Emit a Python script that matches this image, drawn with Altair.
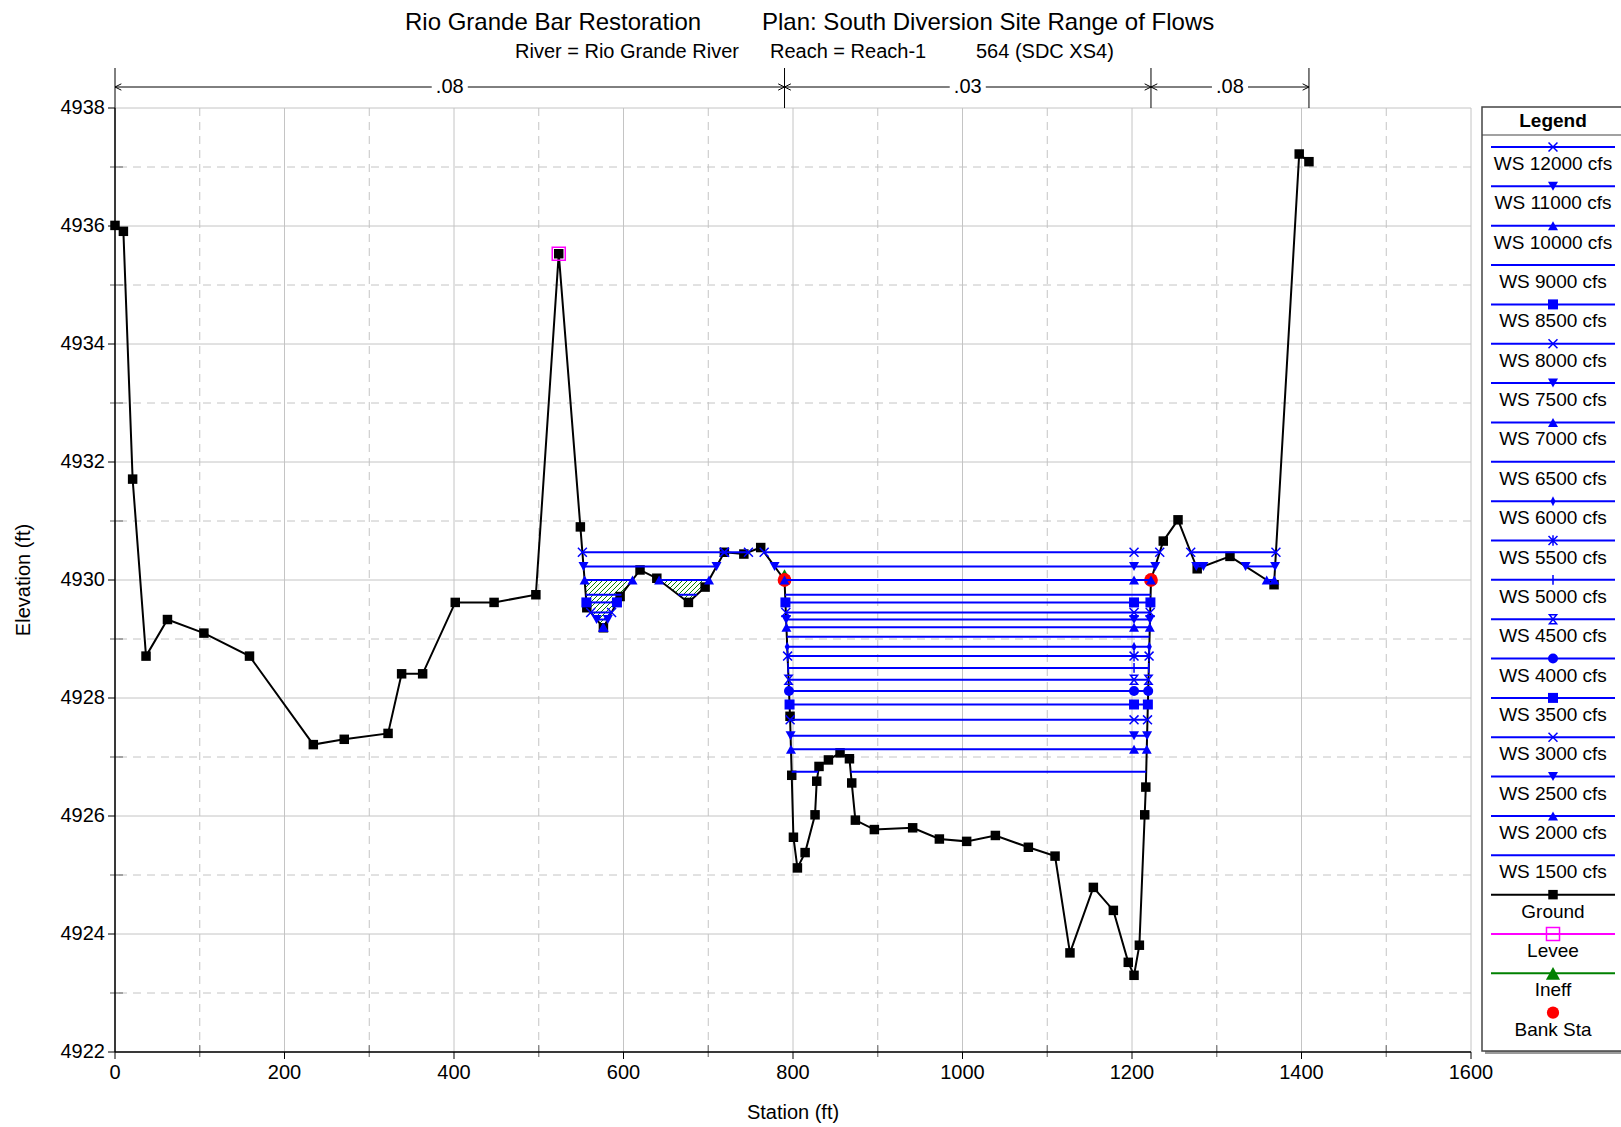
import altair as alt
import numpy as np
import pandas as pd

FONT = "Liberation Sans"
BLUE = "#0000ff"
GREEN = "#008000"
GRID = "#c4c4c4"

# ---------------- data ----------------
ground_sta = [0.0, 9.9, 20.8, 36.6, 61.9, 104.9, 158.7, 234.0, 270.5, 322.2,
              338.2, 363.0, 401.5, 447.3, 496.6, 523.6, 549.1, 556.7, 576.3, 596.0,
              619.5, 639.3, 676.6, 696.3, 719.0, 742.0, 761.9, 790.0, 796.5, 798.5,
              800.5, 805.2, 814.3, 826.0, 828.0, 830.7, 841.8, 855.5, 866.6, 869.3,
              873.6, 896.0, 941.2, 972.7, 1004.9, 1038.8, 1077.7, 1109.2, 1126.8, 1154.4,
              1178.0, 1195.6, 1202.4, 1208.7, 1215.0, 1216.3, 1222.4, 1236.9, 1254.3, 1276.9,
              1315.6, 1367.6, 1397.3, 1408.8]
ground_elev = [4936.01, 4935.91, 4931.71, 4928.71, 4929.33, 4929.10, 4928.71, 4927.21, 4927.30, 4927.40,
               4928.41, 4928.41, 4929.62, 4929.62, 4929.75, 4935.53, 4930.90, 4929.53, 4929.19, 4929.72,
               4930.17, 4930.03, 4929.62, 4929.88, 4930.47, 4930.44, 4930.55, 4930.00, 4927.69, 4926.69,
               4925.64, 4925.12, 4925.38, 4926.02, 4926.59, 4926.84, 4926.95, 4927.07, 4926.97, 4926.56,
               4925.93, 4925.77, 4925.80, 4925.61, 4925.57, 4925.67, 4925.47, 4925.32, 4923.68, 4924.79,
               4924.40, 4923.52, 4923.30, 4923.81, 4926.02, 4926.49, 4930.00, 4930.66, 4931.02, 4930.19,
               4930.40, 4929.92, 4937.22, 4937.09]

levee_sta = [523.6]
levee_elev = [4935.53]

bank_sta = [790.0, 1222.4]
bank_elev = [4930.0, 4930.0]

ineff_sta = [523.6, 790.0]
ineff_elev = 4930.0

profiles = ["WS 12000 cfs", "WS 11000 cfs", "WS 10000 cfs", "WS 9000 cfs", "WS 8500 cfs",
            "WS 8000 cfs", "WS 7500 cfs", "WS 7000 cfs", "WS 6500 cfs", "WS 6000 cfs",
            "WS 5500 cfs", "WS 5000 cfs", "WS 4500 cfs", "WS 4000 cfs", "WS 3500 cfs",
            "WS 3000 cfs", "WS 2500 cfs", "WS 2000 cfs", "WS 1500 cfs"]
ws_elev = [4930.47, 4930.23, 4930.00, 4929.75, 4929.62,
           4929.45, 4929.33, 4929.20, 4929.04, 4928.87,
           4928.71, 4928.51, 4928.31, 4928.12, 4927.89,
           4927.63, 4927.36, 4927.13, 4926.75]

n_sta = [0.0, 790.0, 1222.4, 1408.8]
n_val = [".08", ".03", ".08"]

x_ticks = list(range(0, 1601, 200))
x_minor = list(range(100, 1600, 200))
y_ticks = list(range(4922, 4939, 2))
y_minor = list(range(4923, 4938, 2))
x_domain = [0, 1600]
y_domain = [4922, 4938]

x_title = "Station (ft)"
y_title = "Elevation (ft)"
other_legend = ["Ground", "Levee", "Ineff", "Bank Sta"]

# ---------------- styles ----------------
X_PATH = "M-1,-1L1,1M-1,1L1,-1"
STAR_PATH = "M-1,-1L1,1M-1,1L1,-1M0,-1.2L0,1.2"
TICK_PATH = "M0,-1.1L0,1.1"
HOUR_PATH = "M-0.8,-1L0.8,-1L-0.8,1L0.8,1Z"
DIAM_PATH = "M0,-1L0.5,0L0,1L-0.5,0Z"
TRI_UP = "M0,-0.9L1,0.9L-1,0.9Z"
TRI_DN = "M0,0.9L1,-0.9L-1,-0.9Z"
marker_style = {
    "WS 12000 cfs": (X_PATH, False), "WS 11000 cfs": (TRI_DN, True),
    "WS 10000 cfs": (TRI_UP, True), "WS 8500 cfs": ("square", True),
    "WS 8000 cfs": (X_PATH, False), "WS 7500 cfs": (TRI_DN, True),
    "WS 7000 cfs": (TRI_UP, True), "WS 6000 cfs": (DIAM_PATH, True),
    "WS 5500 cfs": (STAR_PATH, False), "WS 5000 cfs": (TICK_PATH, False),
    "WS 4500 cfs": (HOUR_PATH, False), "WS 4000 cfs": ("circle", True),
    "WS 3500 cfs": ("square", True), "WS 3000 cfs": (X_PATH, False),
    "WS 2500 cfs": (TRI_DN, True), "WS 2000 cfs": (TRI_UP, True),
}
marker_profiles = [p for p in profiles if p in marker_style]
marker_shapes = [marker_style[p][0] for p in marker_profiles]
filled_profiles = [p for p in marker_profiles if marker_style[p][1]]
stroked_profiles = [p for p in marker_profiles if not marker_style[p][1]]

PLOT_W, PLOT_H = 1356, 944

xs = alt.Scale(domain=x_domain, nice=False, zero=False)
ys = alt.Scale(domain=y_domain, nice=False, zero=False)
shape_scale = alt.Scale(domain=marker_profiles, range=marker_shapes)

def X(f):
    return alt.X(f, scale=xs, axis=None)

def Y(f):
    return alt.Y(f, scale=ys, axis=None)

# ---------------- derived tables ----------------
gs = np.array(ground_sta)
gz = np.array(ground_elev)
ground_df = pd.DataFrame({"sta": gs, "elev": gz})
iL = ground_sta.index(levee_sta[0])
thal = float(gs[np.argmin(gz)])

seg_rows, mark_rows = [], []
for p, h in zip(profiles, ws_elev):
    start = None
    for i in range(iL, len(gs) - 1):
        x0, z0, x1, z1 = gs[i], gz[i], gs[i + 1], gz[i + 1]
        if start is None and z0 >= h and z1 < h:
            start = x0 + (z0 - h) / (z0 - z1) * (x1 - x0)
        elif start is not None and z0 < h and z1 >= h:
            end = x0 + (h - z0) / (z1 - z0) * (x1 - x0)
            seg_rows.append({"profile": p, "x1": start, "x2": end, "z": h})
            if p in marker_style:
                pts = [start, end] + ([thal] if start < thal < end else [])
                for s in pts:
                    mark_rows.append({"profile": p, "s": s, "z": h})
            start = None
seg_df = pd.DataFrame(seg_rows)
mark_df = pd.DataFrame(mark_rows)

# ineffective-flow hatch (45 degree lines in screen space)
sx = PLOT_W / (x_domain[1] - x_domain[0])
sy = PLOT_H / (y_domain[1] - y_domain[0])
Xp = np.arange(ineff_sta[0] * sx, ineff_sta[1] * sx, 0.2)
st = Xp / sx
gzi = np.interp(st, gs, gz)
hatch_rows = []
for c in np.arange(700.0, 1400.0, 5.0):
    Yp = c - Xp
    z = y_domain[1] - Yp / sy
    inside = (z <= ineff_elev) & (z > gzi)
    edges = np.flatnonzero(np.diff(np.concatenate([[0], inside.astype(int), [0]])))
    for a, b in zip(edges[::2], edges[1::2]):
        if b - a < 3:
            continue
        hatch_rows.append({"hx1": st[a], "hz1": z[a], "hx2": st[b - 1], "hz2": z[b - 1]})
hatch_df = pd.DataFrame(hatch_rows)

rough_df = pd.DataFrame({"s1": n_sta[:-1], "s2": n_sta[1:], "label": n_val})
rough_df["mid"] = (rough_df["s1"] + rough_df["s2"]) / 2

legend_labels = profiles + other_legend
line_colors = [BLUE] * len(profiles) + ["black", "#ff00ff", GREEN, None]
legend_df = pd.DataFrame({"idx": range(len(legend_labels)), "profile": legend_labels, "col": line_colors})

one = alt.Data(values=[{"a": 1}])

# ---------------- grid and axes (drawn with the scales) ----------------
xt_df = pd.DataFrame({"v": x_ticks})
yt_df = pd.DataFrame({"v": y_ticks})
xm_df = pd.DataFrame({"v": x_minor})
ym_df = pd.DataFrame({"v": y_minor})
grid_x = alt.Chart(xt_df).mark_rule(color=GRID, strokeWidth=1).encode(x=X("v:Q"))
grid_y = alt.Chart(yt_df).mark_rule(color=GRID, strokeWidth=1).encode(y=Y("v:Q"))
minor_x = alt.Chart(xm_df).mark_rule(
    color=GRID, strokeDash=[8, 6], strokeWidth=1).encode(x=X("v:Q"))
minor_y = alt.Chart(ym_df).mark_rule(
    color=GRID, strokeDash=[8, 6], strokeWidth=1).encode(y=Y("v:Q"))

axis_left = alt.Chart(one).mark_rule(color="black", strokeWidth=1.5).encode(
    x=alt.X("d:Q", scale=xs, axis=None)).transform_calculate(d=str(x_domain[0]))
axis_bottom = alt.Chart(one).mark_rule(color="black", strokeWidth=1.5).encode(
    y=alt.Y("d:Q", scale=ys, axis=None)).transform_calculate(d=str(y_domain[0]))
ticks_x = alt.Chart(xt_df).mark_rule(color="black", strokeWidth=1).encode(
    x=X("v:Q"), y=alt.value(PLOT_H), y2=alt.value(PLOT_H + 7))
ticks_y = alt.Chart(yt_df).mark_rule(color="black", strokeWidth=1).encode(
    y=Y("v:Q"), x=alt.value(-7), x2=alt.value(0))
mticks_x = alt.Chart(xm_df).mark_rule(color="#7a7a7a", strokeWidth=1.2).encode(
    x=X("v:Q"), y=alt.value(PLOT_H - 7), y2=alt.value(PLOT_H + 5))
mticks_y = alt.Chart(ym_df).mark_rule(color="#7a7a7a", strokeWidth=1.2).encode(
    y=Y("v:Q"), x=alt.value(-5), x2=alt.value(8))
labels_x = alt.Chart(xt_df).mark_text(font=FONT, fontSize=20, color="black", baseline="top",
                                      align="center").encode(
    x=X("v:Q"), y=alt.value(PLOT_H + 11), text=alt.Text("v:Q", format="d"))
labels_y = alt.Chart(yt_df).mark_text(font=FONT, fontSize=20, color="black", baseline="middle",
                                      align="right").encode(
    y=Y("v:Q"), x=alt.value(-10), text=alt.Text("v:Q", format="d"))
title_x = alt.Chart(one).mark_text(text=x_title, font=FONT, fontSize=20, color="black",
                                   baseline="middle", align="center").encode(
    x=alt.value(PLOT_W / 2), y=alt.value(PLOT_H + 61))
title_y = alt.Chart(one).mark_text(text=y_title, font=FONT, fontSize=20, color="black",
                                   baseline="middle", align="center", angle=270).encode(
    x=alt.value(-91), y=alt.value(PLOT_H / 2))

# ---------------- data layers ----------------
hatch = alt.Chart(hatch_df).mark_rule(color=GREEN, strokeWidth=1).encode(
    x=X("hx1:Q"), x2="hx2:Q", y=Y("hz1:Q"), y2="hz2:Q")

ground_line = alt.Chart(ground_df).mark_line(color="black", strokeWidth=2).encode(
    x=X("sta:Q"), y=Y("elev:Q"), order="sta:Q")

levee = alt.Chart(pd.DataFrame({"s": levee_sta, "z": levee_elev})).mark_point(
    shape="square", size=170, filled=False, color="#ff00ff", strokeWidth=1.5, opacity=1).encode(
    x=X("s:Q"), y=Y("z:Q"))

GSQ = 90
ground_pts = alt.Chart(ground_df).mark_point(
    shape="square", size=GSQ, filled=True, color="black", opacity=1).encode(
    x=X("sta:Q"), y=Y("elev:Q"))

ineff_pt = alt.Chart(pd.DataFrame({"s": [ineff_sta[1]], "z": [ineff_elev]})).mark_point(
    shape=TRI_UP, size=170, filled=True, color=GREEN, opacity=1).encode(
    x=X("s:Q"), y=Y("z:Q"), yOffset=alt.value(-5))

bank = alt.Chart(pd.DataFrame({"s": bank_sta, "z": bank_elev})).mark_point(
    shape="circle", size=190, filled=True, color="#ff0000", opacity=1).encode(
    x=X("s:Q"), y=Y("z:Q"))

ws_lines = alt.Chart(seg_df).mark_rule(color=BLUE, strokeWidth=2).encode(
    x=X("x1:Q"), x2="x2:Q", y=Y("z:Q"))

MK_F, MK_S = 100, 80
ws_mk_fill = alt.Chart(mark_df).transform_filter(
    alt.FieldOneOfPredicate(field="profile", oneOf=filled_profiles)).mark_point(
    filled=True, color=BLUE, size=MK_F, opacity=1).encode(
    x=X("s:Q"), y=Y("z:Q"),
    shape=alt.Shape("profile:N", scale=shape_scale, legend=None))
ws_mk_stroke = alt.Chart(mark_df).transform_filter(
    alt.FieldOneOfPredicate(field="profile", oneOf=stroked_profiles)).mark_point(
    filled=False, color=BLUE, size=MK_S, strokeWidth=1.5, opacity=1).encode(
    x=X("s:Q"), y=Y("z:Q"),
    shape=alt.Shape("profile:N", scale=shape_scale, legend=None))

# roughness annotation above the plot
RY = -21
rough_v = alt.Chart(pd.DataFrame({"s": n_sta})).mark_rule(color="black", strokeWidth=1).encode(
    x=X("s:Q"), y=alt.value(-40), y2=alt.value(0))
rough_h = alt.Chart(rough_df).mark_rule(color="black", strokeWidth=1).encode(
    x=X("s1:Q"), x2="s2:Q", y=alt.value(RY))
rough_box = alt.Chart(rough_df).mark_point(
    shape="M-1,-0.45L1,-0.45L1,0.45L-1,0.45Z", size=1300, filled=True, color="white", opacity=1).encode(
    x=X("mid:Q"), y=alt.value(RY))
rough_txt = alt.Chart(rough_df).mark_text(font=FONT, fontSize=20, color="black", baseline="middle").encode(
    x=X("mid:Q"), y=alt.value(RY), text="label:N")
arrow_l = alt.Chart(rough_df).mark_point(
    shape="M2,-1L0,0L2,1", size=40, filled=False, color="black", strokeWidth=1, opacity=1).encode(
    x=X("s1:Q"), y=alt.value(RY))
arrow_r = alt.Chart(rough_df).mark_point(
    shape="M-2,-1L0,0L-2,1", size=40, filled=False, color="black", strokeWidth=1, opacity=1).encode(
    x=X("s2:Q"), y=alt.value(RY))

# titles
def label(text, x, y, size, weight="normal", align="left"):
    return alt.Chart(one).mark_text(text=text, font=FONT, fontSize=size, fontWeight=weight,
                                    align=align, baseline="alphabetic", color="black").encode(
        x=alt.value(x), y=alt.value(y))

titles = [
    label("Rio Grande Bar Restoration", 290, -78, 24),
    label("Plan: South Diversion Site Range of Flows", 647, -78, 24),
    label("River = Rio Grande River", 400, -50, 20),
    label("Reach = Reach-1", 655, -50, 20),
    label("564 (SDC XS4)", 861, -50, 20),
]

# legend panel
LX0, LX1, LC = 1367, 1520, 1438
leg_shadow = alt.Chart(one).mark_rect(fill="#9a9a9a").encode(
    x=alt.value(LX0 + 3), x2=alt.value(LX1 + 3), y=alt.value(2), y2=alt.value(946))
leg_box = alt.Chart(one).mark_rect(fill="white", stroke="#444444", strokeWidth=1.5).encode(
    x=alt.value(LX0), x2=alt.value(LX1), y=alt.value(-1), y2=alt.value(943))
leg_div = alt.Chart(one).mark_rule(color="#444444", strokeWidth=1.2).encode(
    x=alt.value(LX0), x2=alt.value(LX1), y=alt.value(27))
leg_head = alt.Chart(one).mark_text(text="Legend", font=FONT, fontSize=19, fontWeight="bold",
                                    baseline="middle", align="center", color="black").encode(
    x=alt.value(LC), y=alt.value(13))

leg_base = alt.Chart(legend_df).transform_calculate(
    ly="39 + 39.35 * datum.idx", ty="56 + 39.35 * datum.idx")
leg_lines = leg_base.transform_filter("datum.col != null").mark_rule(strokeWidth=2).encode(
    x=alt.value(1376), x2=alt.value(1500), y=alt.Y("ly:Q", scale=None, axis=None),
    color=alt.Color("col:N", scale=None, legend=None))
leg_mk_fill = leg_base.transform_filter(
    alt.FieldOneOfPredicate(field="profile", oneOf=filled_profiles)).mark_point(
    filled=True, color=BLUE, size=MK_F, opacity=1).encode(
    x=alt.value(LC), y=alt.Y("ly:Q", scale=None, axis=None),
    shape=alt.Shape("profile:N", scale=shape_scale, legend=None))
leg_mk_stroke = leg_base.transform_filter(
    alt.FieldOneOfPredicate(field="profile", oneOf=stroked_profiles)).mark_point(
    filled=False, color=BLUE, size=MK_S, strokeWidth=1.5, opacity=1).encode(
    x=alt.value(LC), y=alt.Y("ly:Q", scale=None, axis=None),
    shape=alt.Shape("profile:N", scale=shape_scale, legend=None))

def leg_sym(name, **kw):
    return leg_base.transform_filter(alt.datum.profile == name).mark_point(opacity=1, **kw).encode(
        x=alt.value(LC), y=alt.Y("ly:Q", scale=None, axis=None))

leg_syms = [
    leg_sym("Ground", shape="square", size=GSQ, filled=True, color="black"),
    leg_sym("Levee", shape="square", size=170, filled=False, color="#ff00ff", strokeWidth=1.5),
    leg_sym("Ineff", shape=TRI_UP, size=200, filled=True, color=GREEN),
    leg_sym("Bank Sta", shape="circle", size=150, filled=True, color="#ff0000"),
]
leg_text = leg_base.mark_text(font=FONT, fontSize=19, color="black", align="center",
                              baseline="middle").encode(
    x=alt.value(LC), y=alt.Y("ty:Q", scale=None, axis=None), text="profile:N")

layers = [grid_x, grid_y, minor_x, minor_y, hatch, ground_line, levee, ground_pts, ineff_pt, bank,
          ws_lines, ws_mk_fill, ws_mk_stroke,
          mticks_x, mticks_y, axis_left, axis_bottom, ticks_x, ticks_y, labels_x, labels_y,
          title_x, title_y,
          rough_v, rough_h, rough_box, rough_txt, arrow_l, arrow_r] + titles + \
         [leg_shadow, leg_box, leg_div, leg_head, leg_lines, leg_mk_fill, leg_mk_stroke] + \
         leg_syms + [leg_text]

chart = alt.layer(*layers).properties(
    width=PLOT_W, height=PLOT_H,
    autosize=alt.AutoSizeParams(type="none"),
    padding={"left": 115, "top": 108, "right": 150, "bottom": 75},
).configure_view(stroke=None)

chart.save("out.html", embed_options={"renderer": "svg", "actions": False})
